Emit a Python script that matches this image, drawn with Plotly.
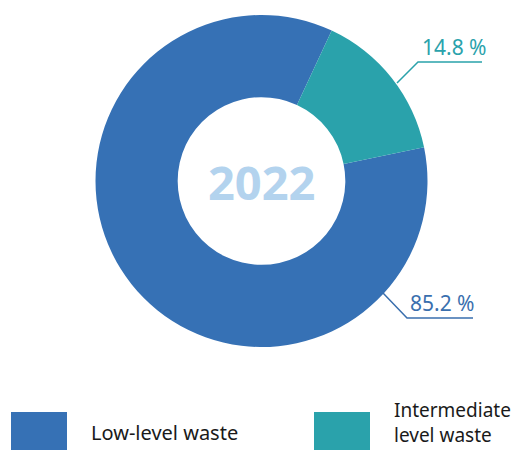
import plotly.graph_objects as go

# Waste categories and their shares (%)
categories = ["Low-level waste", "Intermediate level waste"]
legend_labels = ["Low-level waste", "Intermediate<br>level waste"]
shares = [85.2, 14.8]
year_label = "2022"

colors = ["#3671b5", "#2aa2ab"]
label_colors = ["#3a6fae", "#2aa2ab"]

W, H = 517, 450


def px(x):
    return x / W


def py(y):
    return 1 - y / H


# Donut geometry (pixels)
cx, cy, r = 261.5, 181, 166

fig = go.Figure(
    go.Pie(
        labels=categories,
        values=shares,
        hole=0.505,
        sort=False,
        direction="counterclockwise",
        rotation=78.3,
        marker=dict(colors=colors, line=dict(width=0)),
        textinfo="none",
        hoverinfo="label+percent",
        showlegend=False,
        domain=dict(x=[px(cx - r), px(cx + r)], y=[py(cy + r), py(cy - r)]),
    )
)

shapes = []
annotations = []

# Centre label
annotations.append(dict(
    x=px(cx), y=py(cy + 1), xref="paper", yref="paper",
    text=f"<b>{year_label}</b>", showarrow=False,
    font=dict(family="Open Sans", size=47, color="#b3d3ee"),
    xanchor="center", yanchor="middle",
))

# Leader lines and percentage labels
leaders = [
    # (start, bend, end, text centre) for Low-level, Intermediate
    ((383, 293), (407, 318), (473, 318), (442, 303)),
    ((397, 83), (418, 62), (482, 62), (454, 47)),
]
for i, (p0, p1, p2, tc) in enumerate(leaders):
    path = (f"M {px(p0[0])},{py(p0[1])} L {px(p1[0])},{py(p1[1])} "
            f"L {px(p2[0])},{py(p2[1])}")
    shapes.append(dict(type="path", xref="paper", yref="paper", path=path,
                       line=dict(color=label_colors[i], width=1.5)))
    annotations.append(dict(
        x=px(tc[0]), y=py(tc[1]), xref="paper", yref="paper",
        text=f"{shares[i]:.1f} %", showarrow=False,
        font=dict(family="Noto Sans", size=21, color=label_colors[i]),
        xanchor="center", yanchor="middle",
    ))

# Custom legend
legend_items = [
    ((11, 412, 67, 452), (89, 432), 20),
    ((314, 412, 370, 452), (392, 422), 19),
]
for i, ((x0, y0, x1, y1), (tx, ty), fs) in enumerate(legend_items):
    shapes.append(dict(type="rect", xref="paper", yref="paper",
                       x0=px(x0), x1=px(x1), y0=py(y1), y1=py(y0),
                       fillcolor=colors[i], line=dict(width=0)))
    annotations.append(dict(
        x=px(tx), y=py(ty), xref="paper", yref="paper",
        text=legend_labels[i], showarrow=False, align="left",
        font=dict(family="Noto Sans", size=fs, color="#1a1a1a"),
        xanchor="left", yanchor="middle",
    ))

fig.update_layout(
    width=W, height=H,
    margin=dict(l=0, r=0, t=0, b=0),
    paper_bgcolor="white", plot_bgcolor="white",
    shapes=shapes, annotations=annotations,
)

fig.write_html("out.html")
